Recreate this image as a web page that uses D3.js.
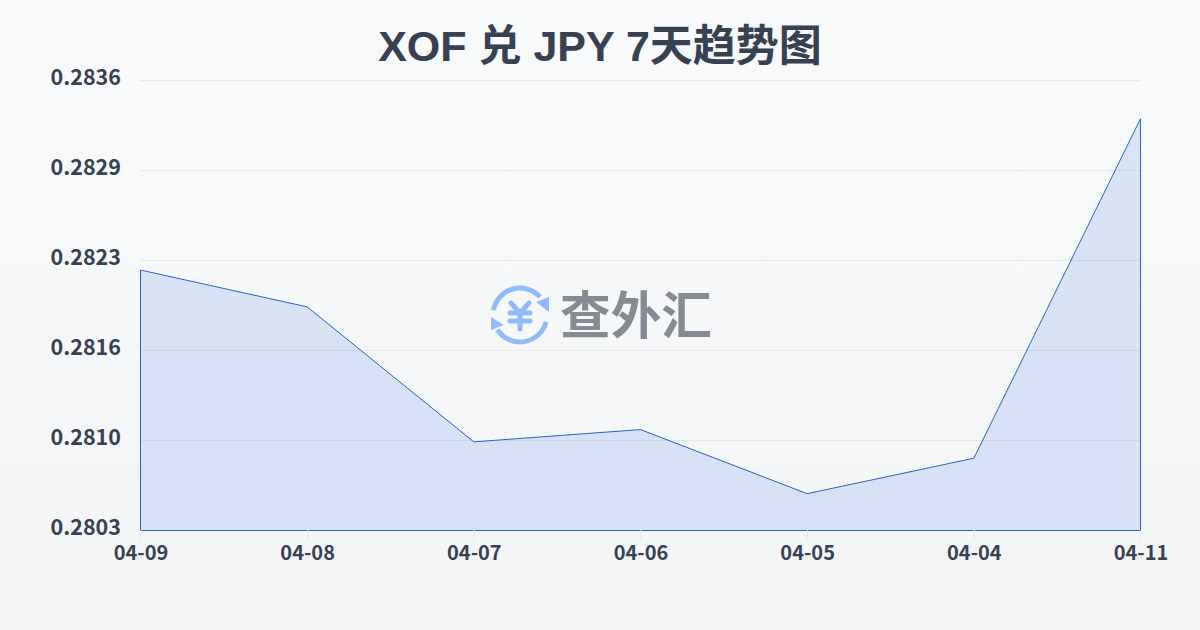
<!DOCTYPE html>
<html><head><meta charset="utf-8">
<script src="https://cdn.jsdelivr.net/npm/d3@7"></script>
<style>html,body{margin:0;padding:0;width:1200px;height:630px;overflow:hidden}svg{display:block}
text{font-family:"Liberation Sans","Noto Sans CJK SC",sans-serif;font-weight:700}</style></head>
<body><svg id="c" width="1200" height="630"></svg>
<script>
const titleText = "XOF 兑 JPY 7天趋势图";
const categories = ["04-09","04-08","04-07","04-06","04-05","04-04","04-11"];
const values = [0.28221,0.28194,0.28095,0.28104,0.28057,0.28083,0.28332];
const yTicks = [0.2803,0.28096,0.28162,0.28228,0.28294,0.2836];
const brandText = "查外汇";

const svg = d3.select("#c");
const defs = svg.append("defs");
const bg = defs.append("linearGradient").attr("id","bg").attr("x1",0).attr("y1",0).attr("x2",0).attr("y2",1);
bg.append("stop").attr("offset",0).attr("stop-color","#f9fafc");
bg.append("stop").attr("offset",1).attr("stop-color","#f3f4f6");
svg.append("rect").attr("width",1200).attr("height",630).attr("fill","url(#bg)");

const x = d3.scalePoint().domain(categories).range([140.5,1140.5]);
const y = d3.scaleLinear().domain([0.2803,0.2836]).range([530.5,80.5]);

svg.append("text").attr("x",600).attr("y",61).attr("text-anchor","middle")
  .attr("font-size",43).attr("fill","#374151").text(titleText);

svg.append("g").selectAll("line").data(yTicks).join("line")
  .attr("x1",140).attr("x2",1140).attr("y1",d=>y(d)).attr("y2",d=>y(d))
  .attr("stroke","#e5e7eb").attr("stroke-width",1);

const pts = categories.map((c,i)=>[c,values[i]]);
const area = d3.area().x(d=>x(d[0])).y0(y(0.2803)).y1(d=>y(d[1]));
svg.append("path").datum(pts).attr("d",area)
  .attr("fill","#2c62e0").attr("fill-opacity",.14)
  .attr("stroke","#2563c9").attr("stroke-width",1);

const gx = svg.append("g").attr("transform","translate(0,530)")
  .call(d3.axisBottom(x).tickSize(10).tickSizeOuter(0).tickPadding(6));
gx.select(".domain").remove();
gx.selectAll("line").attr("stroke","#e5e7eb");
gx.selectAll("text").attr("font-size",20).attr("fill","#374151")
  .style("font-family",'"Noto Sans CJK SC",sans-serif').style("font-weight",700);

const gy = svg.append("g").attr("transform","translate(121,0)")
  .call(d3.axisLeft(y).tickValues(yTicks).tickSize(0).tickPadding(0).tickFormat(d3.format(".4f")));
gy.select(".domain").remove();
gy.selectAll("text").attr("font-size",21.5).attr("fill","#374151")
  .style("font-family",'"Noto Sans CJK SC",sans-serif').style("font-weight",700)
  .attr("dy","0.2em");

// watermark
const wm = svg.append("g").attr("transform","translate(520,315)");
const ic = wm.append("g").attr("fill","none")
  .attr("stroke","#93bbfb").attr("stroke-width",5).attr("stroke-linecap","round");
const arc = d3.arc().innerRadius(27).outerRadius(27);
ic.append("path").attr("d",arc({startAngle:-1.39,endAngle:0.84}));
ic.append("path").attr("d",arc({startAngle:1.83,endAngle:4.13}));
ic.append("path").attr("d","M-9,-12L0,-2L9,-12M0,-2V14M-10,-2H10M-10,6H10");
wm.append("path").attr("fill","#93bbfb").attr("d","M16,-13L29,-18V-3Z M-29,2L-16,10L-29,15Z");
wm.append("text").attr("x",40).attr("y",19).attr("font-size",51).attr("fill","#868b93")
  .attr("textLength",152).attr("lengthAdjust","spacingAndGlyphs").text(brandText);
</script></body></html>
